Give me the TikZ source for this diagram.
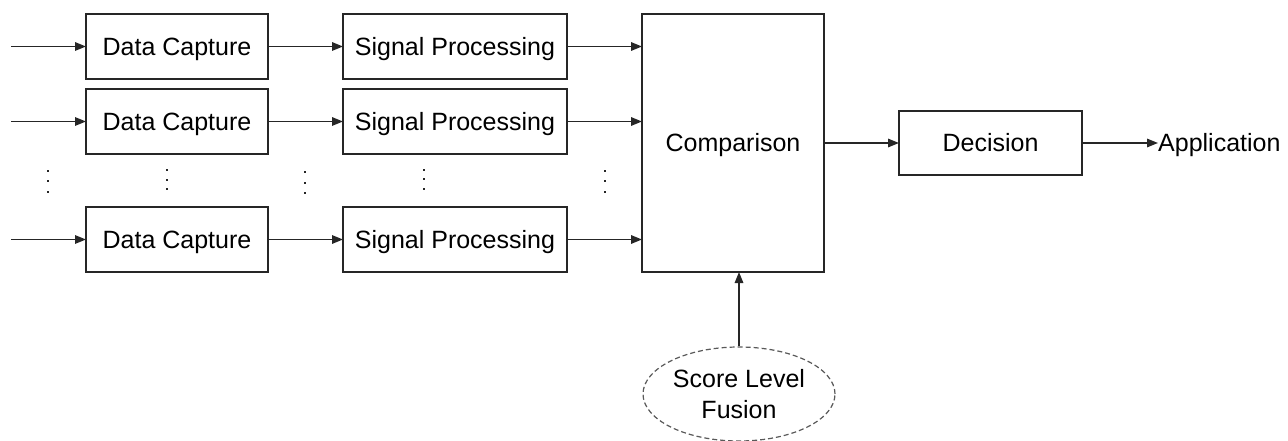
\documentclass[tikz,border=0pt]{standalone}
\usepackage{fontspec}
\setmainfont{Liberation Sans}
\usetikzlibrary{arrows.meta,shapes.geometric}

\tikzset{
  px/.style={x=1pt,y=-1pt},
  block/.style={draw=black!85,line width=1.5pt,inner sep=0pt,outer sep=0pt,
    font=\fontsize{25}{29}\selectfont,text height=18pt,text depth=0pt},
  capbox/.style={block,minimum width=182pt,minimum height=65pt},
  procbox/.style={block,minimum width=224pt,minimum height=65pt},
  flow/.style={draw=black!85,line width=1.5pt,-{Triangle[length=11pt,width=8.5pt]}},
  vdot/.style={fill=black!85,inner sep=0pt,minimum size=2.6pt,shape=rectangle},
  fusion/.style={ellipse,draw=black!65,dash pattern=on 5pt off 3pt,line width=1.2pt,
    minimum width=192pt,minimum height=94pt,inner sep=0pt,align=center,
    font=\fontsize{25}{31}\selectfont}
}

\begin{document}
\begin{tikzpicture}[px]
  \useasboundingbox (0,0) rectangle (1288,441);

  % three acquisition chains
  \foreach \r/\y in {1/46.5,2/121.5,3/239.5}{
    \coordinate (in\r) at (11,\y);
    \node[capbox]  (dc\r) at (177,\y) {Data Capture};
    \node[procbox] (sp\r) at (455,\y) {Signal Processing};
  }

  % matching and decision
  \node[block,minimum width=182pt,minimum height=258pt] (cmp) at (733,143) {Comparison};
  \node[block,minimum width=183pt,minimum height=64pt] (dec) at (990.5,143) {Decision};
  \node[anchor=west,inner sep=0pt,font=\fontsize{25}{29}\selectfont,
        text height=18pt,text depth=0pt] (app) at (1158,143) {Application};

  % fusion input
  \node[fusion] (fus) at (739,394) {Score Level\\Fusion};
  \coordinate (cmpin) at (739,272);

  % connectors
  \foreach \r in {1,2,3}{
    \draw[flow] (in\r) -- (dc\r.west);
    \draw[flow] (dc\r.east) -- (sp\r.west);
    \draw[flow] (sp\r.east) -- (cmp.west |- sp\r.east);
  }
  \draw[flow] (cmp.east) -- (dec.west);
  \draw[flow] (dec.east) -- (app.west);
  \draw[flow] (fus.north) -- (cmpin);

  % ellipsis dots between the chains
  \foreach \x/\a/\b/\c in {48/171/181/192, 167/170/180/189, 305/172/183/193,
                           424/170/179/189, 605/171/181/192}{
    \node[vdot] (d\x a) at (\x,\a) {};
    \node[vdot] (d\x b) at (\x,\b) {};
    \node[vdot] (d\x c) at (\x,\c) {};
  }
\end{tikzpicture}
\end{document}
